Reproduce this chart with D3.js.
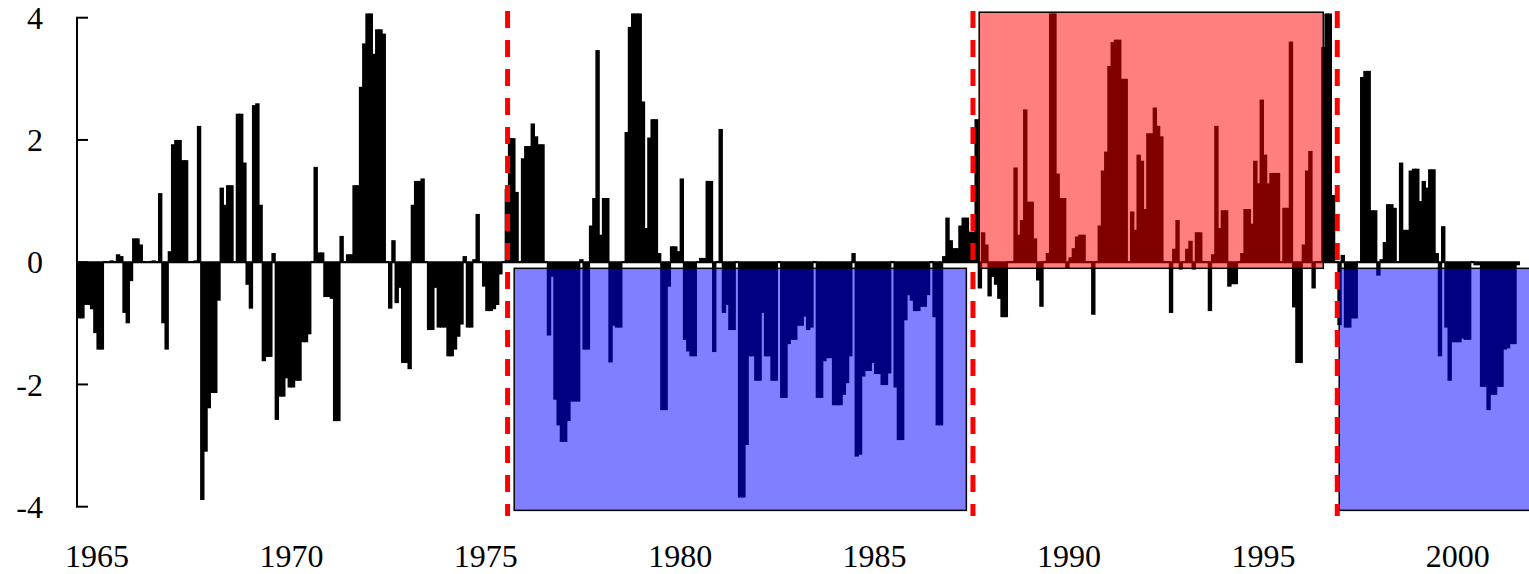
<!DOCTYPE html>
<html>
<head>
<meta charset="utf-8">
<script src="https://cdn.jsdelivr.net/npm/d3@7"></script>
<style>
  body { margin: 0; background: #fff; }
  text { font-family: "Liberation Serif", "DejaVu Serif", serif; fill: #000; }
</style>
</head>
<body>
<div id="chart"></div>
<script>
// monthly index, first value is July 1964
const firstMonth = 1964.5;
const monthly = [
  -0.92, -0.92, -0.7, -0.7, -0.77, -1.16,
  -1.43, -1.43, 0.02, 0.01, 0.03, 0.02, 0.13, 0.1, -0.83, -1.0, -0.31, 0.39,
  0.39, 0.29, 0.02, 0.01, 0.02, 0.03, 0.02, 1.13, -1.0, -1.43, 0.18, 1.93,
  2.0, 2.0, 1.67, 1.67, 0.02, 0.02, 0.03, 2.23, -3.89, -3.1, -2.39, -2.14,
  -2.14, -0.63, 1.22, 0.94, 1.26, 1.26, 0.02, 2.43, 2.43, 1.63, -0.37, -0.76,
  2.57, 2.6, 0.94, -1.62, -1.55, -1.55, 0.15, -2.58, -2.2, -2.2, -1.9, -2.05,
  -2.05, -1.94, -1.94, -1.31, -1.31, -1.18, 0.02, 1.56, 0.16, 0.16, -0.57, -0.57,
  -0.6, -2.6, -2.6, 0.43, 0.02, 0.13, 0.13, 1.26, 1.26, 2.87, 3.58, 4.07,
  4.07, 3.41, 3.81, 3.81, 3.74, 0.02, -0.76, 0.36, -0.67, -0.42, -1.65, -1.65,
  -1.75, 0.94, 1.33, 1.33, 1.37, 0.02, -1.11, -1.11, -0.42, -1.07, -1.07, -1.07,
  -1.54, -1.54, -1.43, -1.22, -1.02, 0.1, -1.07, -1.07, 0.05, 0.79, 0.02, -0.4,
  -0.8, -0.8, -0.77, -0.7, -0.2, 0.02, 1.2, 2.03, 2.03, 1.15, 0.02, 1.7,
  1.9, 1.9, 2.27, 2.06, 1.93, 1.93, 0.02, -1.2, -0.24, -2.25, -2.67, -2.94,
  -2.94, -2.6, -2.28, -2.28, -2.28, 0.05, -1.43, -1.43, 0.6, 1.05, 3.47, 0.45,
  1.05, 1.05, -1.64, -1.04, -1.07, -1.07, 0.02, 2.13, 3.85, 4.07, 4.07, 4.07,
  2.63, 0.56, 2.04, 2.34, 2.34, 0.15, -2.42, -2.42, -0.4, 0.26, 0.26, 0.18,
  1.37, -1.27, -1.46, -1.54, -1.54, 0.02, 0.07, 0.07, 1.33, 1.33, -1.47, 0.02,
  2.18, -0.83, -0.7, -1.11, -1.11, 0.02, -3.85, -3.85, -2.99, -1.54, -1.54, -1.94,
  -1.94, -0.83, -1.54, -1.54, -1.94, -1.94, 0.02, -2.22, -2.22, -1.34, -1.27, -1.27,
  -1.04, -1.04, -0.89, -1.11, -1.07, 0.02, -2.22, -2.22, -1.62, -1.57, -1.57, -2.34,
  -2.34, -2.34, -2.17, -1.98, -1.54, 0.15, -3.18, -3.15, -1.87, -1.78, -1.78, -1.65,
  -1.83, -1.83, -2.01, -2.01, -1.82, 0.02, -2.05, -2.91, -2.91, -0.95, -0.54, -0.63,
  -0.8, -0.8, -0.73, -0.73, -0.54, 0.02, -0.9, -2.67, -2.67, 0.1, 0.73, 0.36,
  0.23, 0.23, 0.6, 0.73, 0.73, 0.5, 0.5, 2.34, -0.43, 0.49, 0.29, -0.56,
  -0.24, -0.37, -0.6, -0.9, -0.9, 0.02, 0.02, 1.55, 0.45, 0.69, 2.5, 0.99,
  0.99, 0.39, -0.3, -0.73, 0.02, 0.15, 4.07, 4.07, 1.45, 1.05, 1.05, -0.1,
  0.08, 0.23, 0.42, 0.45, 0.45, 0.02, 0.02, -0.86, 0.02, 0.6, 1.5, 1.81,
  3.21, 3.6, 3.64, 3.64, 3.0, 3.0, 0.02, 0.83, 0.53, 1.76, 1.66, 0.87,
  2.11, 2.11, 2.53, 2.23, 2.06, 0.02, 0.02, -0.83, 0.22, 0.69, -0.12, 0.02,
  0.22, 0.35, -0.12, 0.49, 0.49, 0.02, 0.02, -0.8, 0.13, 2.23, 0.56, 0.85,
  0.85, -0.4, -0.36, -0.36, 0.02, 0.15, 0.87, 0.87, 0.63, 1.66, 1.29, 2.66,
  1.76, 1.29, 1.46, 1.46, 1.46, 0.02, 0.89, 0.89, 3.61, -0.74, -1.65, -1.65,
  0.29, 1.5, 1.82, -0.43, 0.02, 0.02, 3.52, 4.07, 4.07, 1.1, 0.02, -1.03,
  0.12, -1.07, -1.07, -0.92, -0.92, 0.02, 3.03, 3.13, 3.13, 0.85, 0.85, -0.22,
  0.05, 0.33, 0.95, 0.95, 0.89, 0.02, 1.63, 0.53, 0.53, 1.5, 1.53, 1.53,
  1.0, 1.33, 1.22, 1.52, 1.52, 0.15, -1.54, 0.59, -1.07, -1.94, -1.31, -1.31,
  -1.31, -1.25, -1.27, -1.27, 0.02, -0.05, -0.05, -2.04, -2.04, -2.42, -2.17, -2.17,
  -2.04, -2.04, -1.43, -1.41, -1.34, -1.34, -0.05
];

// regime shifts (dashed lines) and the shaded regimes between them
const shiftYears = [1975.56, 1987.53, 1996.9];
const regimeStart = [1975.73, 1987.69, 1996.95];
const regimeEnd   = [1987.36, 1996.54, 2002.2];
const regimeSign  = [-1, 1, -1];

const yTicks = [-4, -2, 0, 2, 4];
const xTicks = [1965, 1970, 1975, 1980, 1985, 1990, 1995, 2000];

const width = 1529;
const height = 574;

const x = d3.scaleLinear().domain([1965, 2000]).range([97, 1457.8]);
const y = d3.scaleLinear().domain([-4, 4]).range([506.7, 17.7]);

const data = monthly.map((v, i) => ({ t: firstMonth + (i + 0.5) / 12, v: v }));

const svg = d3.select('#chart').append('svg')
    .attr('width', width)
    .attr('height', height);

svg.append('rect')
    .attr('width', width)
    .attr('height', height)
    .attr('fill', '#fff');

const barW = 4.4;

svg.append('g').selectAll('rect')
    .data(data)
    .join('rect')
        .attr('x', d => x(d.t) - barW / 2)
        .attr('y', d => d.v > 0 ? y(d.v) : y(0))
        .attr('width', barW)
        .attr('height', d => Math.abs(y(d.v) - y(0)))
        .attr('fill', '#000');

// zero line under the bars
svg.append('line')
    .attr('x1', x(data[0].t) - barW / 2)
    .attr('x2', x(data[data.length - 1].t) + barW / 2)
    .attr('y1', y(0))
    .attr('y2', y(0))
    .attr('stroke', '#000')
    .attr('stroke-width', 2);

// shaded regimes
svg.append('g').selectAll('rect')
    .data(regimeSign)
    .join('rect')
        .attr('x', (d, i) => x(regimeStart[i]))
        .attr('width', (d, i) => x(regimeEnd[i]) - x(regimeStart[i]))
        .attr('y', d => d > 0 ? y(4.09) : y(-0.1))
        .attr('height', d => d > 0 ? y(-0.1) - y(4.09) : y(-4.06) - y(-0.1))
        .attr('fill', d => d > 0 ? '#ff0000' : '#0000ff')
        .attr('fill-opacity', 0.5)
        .attr('stroke', '#000')
        .attr('stroke-width', 1.5);

// shift lines
svg.append('g').selectAll('line')
    .data(shiftYears)
    .join('line')
        .attr('x1', d => x(d))
        .attr('x2', d => x(d))
        .attr('y1', 11)
        .attr('y2', 516)
        .attr('stroke', '#ff0000')
        .attr('stroke-width', 5)
        .attr('stroke-dasharray', '17,12');

// y axis
const axis = svg.append('g');
axis.append('line')
    .attr('x1', 77).attr('x2', 77)
    .attr('y1', y(-4)).attr('y2', y(4))
    .attr('stroke', '#000')
    .attr('stroke-width', 2);

axis.selectAll('.tick')
    .data(yTicks)
    .join('line')
        .attr('class', 'tick')
        .attr('x1', 76).attr('x2', 88)
        .attr('y1', d => y(d)).attr('y2', d => y(d))
        .attr('stroke', '#000')
        .attr('stroke-width', 2);

axis.selectAll('.ylab')
    .data(yTicks)
    .join('text')
        .attr('class', 'ylab')
        .attr('x', 43)
        .attr('y', d => y(d))
        .attr('dy', '0.35em')
        .attr('text-anchor', 'end')
        .attr('font-size', 32)
        .text(d => d);

svg.append('g').selectAll('text')
    .data(xTicks)
    .join('text')
        .attr('x', d => x(d))
        .attr('y', 567)
        .attr('text-anchor', 'middle')
        .attr('font-size', 32)
        .text(d => d);
</script>
</body>
</html>
